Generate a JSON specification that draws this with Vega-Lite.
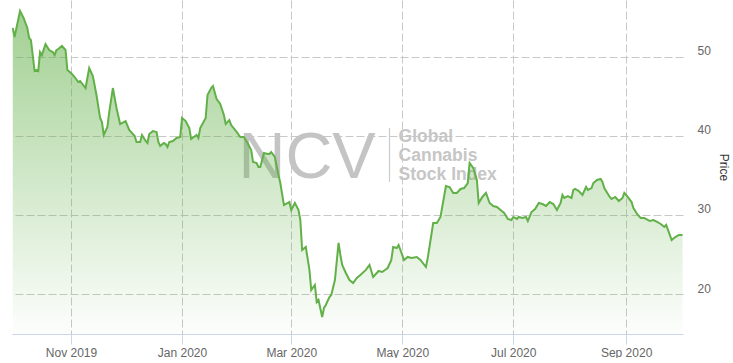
{
  "$schema": "https://vega.github.io/schema/vega-lite/v6.json",
  "width": 671,
  "height": 334,
  "padding": {"left": 8, "top": 0, "right": 0, "bottom": 0},
  "config": {"view": {"stroke": null}, "font": "Liberation Sans", "axis": {"labelFont": "Liberation Sans", "titleFont": "Liberation Sans"}},
  "layer": [
    {
      "data": {"values": [{}]},
      "mark": {"type": "text", "text": "NCV", "fontSize": 65, "font": "Liberation Sans", "color": "#c4c4c4", "align": "left", "baseline": "alphabetic"},
      "encoding": {"x": {"datum": {"year": 2020, "month": "feb", "date": 1, "utc": true}, "type": "temporal"}, "y": {"datum": 34.65, "type": "quantitative"}}
    },
    {
      "data": {"values": [{}]},
      "mark": {"type": "rule", "color": "#cccccc", "strokeWidth": 1.2},
      "encoding": {"x": {"datum": {"year": 2020, "month": "apr", "date": 24, "utc": true}, "type": "temporal"}, "y": {"datum": 40.97, "type": "quantitative"}, "y2": {"datum": 34.15}}
    },
    {
      "data": {"values": [{}]},
      "mark": {"type": "text", "text": "Global", "fontSize": 17.5, "fontWeight": "bold", "font": "Liberation Sans", "color": "#c6c6c6", "align": "left", "baseline": "alphabetic"},
      "encoding": {"x": {"datum": {"year": 2020, "month": "apr", "date": 29, "utc": true}, "type": "temporal"}, "y": {"datum": 39.15, "type": "quantitative"}}
    },
    {
      "data": {"values": [{}]},
      "mark": {"type": "text", "text": "Cannabis", "fontSize": 17.5, "fontWeight": "bold", "font": "Liberation Sans", "color": "#c6c6c6", "align": "left", "baseline": "alphabetic"},
      "encoding": {"x": {"datum": {"year": 2020, "month": "apr", "date": 29, "utc": true}, "type": "temporal"}, "y": {"datum": 36.8, "type": "quantitative"}}
    },
    {
      "data": {"values": [{}]},
      "mark": {"type": "text", "text": "Stock Index", "fontSize": 17.5, "fontWeight": "bold", "font": "Liberation Sans", "color": "#c6c6c6", "align": "left", "baseline": "alphabetic"},
      "encoding": {"x": {"datum": {"year": 2020, "month": "apr", "date": 29, "utc": true}, "type": "temporal"}, "y": {"datum": 34.45, "type": "quantitative"}}
    },
    {
      "data": {"values": [
        {"date": "2019-09-30", "price": 53.60}, {"date": "2019-10-01", "price": 52.46}, {"date": "2019-10-04", "price": 55.75}, {"date": "2019-10-06", "price": 54.86},
        {"date": "2019-10-08", "price": 53.60}, {"date": "2019-10-09", "price": 52.34}, {"date": "2019-10-10", "price": 52.08}, {"date": "2019-10-12", "price": 48.17},
        {"date": "2019-10-13", "price": 48.30}, {"date": "2019-10-14", "price": 48.17}, {"date": "2019-10-15", "price": 50.57}, {"date": "2019-10-16", "price": 50.19},
        {"date": "2019-10-18", "price": 51.58}, {"date": "2019-10-20", "price": 50.82}, {"date": "2019-10-22", "price": 50.57}, {"date": "2019-10-23", "price": 50.19},
        {"date": "2019-10-24", "price": 50.82}, {"date": "2019-10-25", "price": 50.95}, {"date": "2019-10-27", "price": 51.33}, {"date": "2019-10-29", "price": 50.82},
        {"date": "2019-10-30", "price": 48.30}, {"date": "2019-11-01", "price": 47.92}, {"date": "2019-11-03", "price": 47.41}, {"date": "2019-11-05", "price": 46.78},
        {"date": "2019-11-06", "price": 46.91}, {"date": "2019-11-09", "price": 46.02}, {"date": "2019-11-11", "price": 48.55}, {"date": "2019-11-13", "price": 47.54},
        {"date": "2019-11-15", "price": 45.14}, {"date": "2019-11-17", "price": 42.23}, {"date": "2019-11-18", "price": 41.73}, {"date": "2019-11-19", "price": 40.09},
        {"date": "2019-11-21", "price": 41.10}, {"date": "2019-11-22", "price": 42.99}, {"date": "2019-11-24", "price": 46.02}, {"date": "2019-11-26", "price": 43.50},
        {"date": "2019-11-28", "price": 41.48}, {"date": "2019-11-29", "price": 41.60}, {"date": "2019-12-01", "price": 41.85}, {"date": "2019-12-03", "price": 40.72},
        {"date": "2019-12-06", "price": 39.96}, {"date": "2019-12-07", "price": 39.20}, {"date": "2019-12-09", "price": 39.20}, {"date": "2019-12-10", "price": 40.09},
        {"date": "2019-12-12", "price": 39.33}, {"date": "2019-12-13", "price": 39.07}, {"date": "2019-12-14", "price": 40.21}, {"date": "2019-12-16", "price": 40.59},
        {"date": "2019-12-18", "price": 40.47}, {"date": "2019-12-19", "price": 39.20}, {"date": "2019-12-20", "price": 38.70}, {"date": "2019-12-22", "price": 39.07},
        {"date": "2019-12-23", "price": 38.95}, {"date": "2019-12-24", "price": 38.57}, {"date": "2019-12-25", "price": 39.20}, {"date": "2019-12-27", "price": 39.33},
        {"date": "2019-12-29", "price": 39.71}, {"date": "2019-12-31", "price": 39.83}, {"date": "2020-01-01", "price": 42.23}, {"date": "2020-01-03", "price": 41.85},
        {"date": "2020-01-05", "price": 40.97}, {"date": "2020-01-06", "price": 39.58}, {"date": "2020-01-09", "price": 40.09}, {"date": "2020-01-10", "price": 39.71},
        {"date": "2020-01-11", "price": 40.97}, {"date": "2020-01-14", "price": 42.23}, {"date": "2020-01-15", "price": 45.14}, {"date": "2020-01-17", "price": 46.02},
        {"date": "2020-01-18", "price": 46.27}, {"date": "2020-01-20", "price": 44.63}, {"date": "2020-01-22", "price": 44.00}, {"date": "2020-01-24", "price": 42.61},
        {"date": "2020-01-25", "price": 41.48}, {"date": "2020-01-27", "price": 41.98}, {"date": "2020-01-28", "price": 41.35}, {"date": "2020-01-31", "price": 40.47},
        {"date": "2020-02-02", "price": 39.83}, {"date": "2020-02-04", "price": 39.83}, {"date": "2020-02-06", "price": 39.07}, {"date": "2020-02-08", "price": 38.19},
        {"date": "2020-02-09", "price": 36.68}, {"date": "2020-02-11", "price": 36.55}, {"date": "2020-02-12", "price": 36.05}, {"date": "2020-02-13", "price": 36.05},
        {"date": "2020-02-15", "price": 37.81}, {"date": "2020-02-17", "price": 37.69}, {"date": "2020-02-18", "price": 37.69}, {"date": "2020-02-19", "price": 37.94},
        {"date": "2020-02-21", "price": 37.31}, {"date": "2020-02-23", "price": 35.03}, {"date": "2020-02-24", "price": 34.02}, {"date": "2020-02-26", "price": 31.24},
        {"date": "2020-02-29", "price": 31.62}, {"date": "2020-03-01", "price": 30.61}, {"date": "2020-03-03", "price": 31.50}, {"date": "2020-03-05", "price": 30.61},
        {"date": "2020-03-06", "price": 29.35}, {"date": "2020-03-07", "price": 25.56}, {"date": "2020-03-09", "price": 25.94}, {"date": "2020-03-11", "price": 23.04},
        {"date": "2020-03-12", "price": 20.51}, {"date": "2020-03-14", "price": 21.14}, {"date": "2020-03-15", "price": 18.99}, {"date": "2020-03-16", "price": 19.25},
        {"date": "2020-03-18", "price": 17.10}, {"date": "2020-03-19", "price": 18.24}, {"date": "2020-03-20", "price": 18.61}, {"date": "2020-03-22", "price": 19.62},
        {"date": "2020-03-23", "price": 19.88}, {"date": "2020-03-25", "price": 21.77}, {"date": "2020-03-27", "price": 26.45}, {"date": "2020-03-28", "price": 24.93},
        {"date": "2020-03-29", "price": 23.67}, {"date": "2020-03-31", "price": 22.66}, {"date": "2020-04-02", "price": 21.77}, {"date": "2020-04-04", "price": 21.39},
        {"date": "2020-04-06", "price": 22.02}, {"date": "2020-04-08", "price": 22.40}, {"date": "2020-04-11", "price": 23.04}, {"date": "2020-04-13", "price": 23.67},
        {"date": "2020-04-15", "price": 22.15}, {"date": "2020-04-18", "price": 22.91}, {"date": "2020-04-20", "price": 22.78}, {"date": "2020-04-23", "price": 23.29},
        {"date": "2020-04-25", "price": 24.30}, {"date": "2020-04-26", "price": 25.94}, {"date": "2020-04-28", "price": 25.81}, {"date": "2020-04-29", "price": 26.19},
        {"date": "2020-04-30", "price": 25.56}, {"date": "2020-05-02", "price": 24.30}, {"date": "2020-05-04", "price": 24.68}, {"date": "2020-05-06", "price": 24.55},
        {"date": "2020-05-09", "price": 24.68}, {"date": "2020-05-11", "price": 24.30}, {"date": "2020-05-14", "price": 23.41}, {"date": "2020-05-15", "price": 24.55},
        {"date": "2020-05-18", "price": 28.97}, {"date": "2020-05-20", "price": 28.97}, {"date": "2020-05-22", "price": 29.73}, {"date": "2020-05-25", "price": 33.65},
        {"date": "2020-05-27", "price": 33.52}, {"date": "2020-05-29", "price": 32.76}, {"date": "2020-05-31", "price": 32.76}, {"date": "2020-06-02", "price": 33.27},
        {"date": "2020-06-04", "price": 33.39}, {"date": "2020-06-06", "price": 34.02}, {"date": "2020-06-07", "price": 36.55}, {"date": "2020-06-09", "price": 35.92},
        {"date": "2020-06-11", "price": 34.40}, {"date": "2020-06-12", "price": 31.50}, {"date": "2020-06-14", "price": 32.26}, {"date": "2020-06-16", "price": 32.76},
        {"date": "2020-06-18", "price": 31.50}, {"date": "2020-06-20", "price": 31.12}, {"date": "2020-06-22", "price": 30.99}, {"date": "2020-06-24", "price": 30.61},
        {"date": "2020-06-26", "price": 30.23}, {"date": "2020-06-28", "price": 29.48}, {"date": "2020-06-30", "price": 29.35}, {"date": "2020-07-01", "price": 29.73},
        {"date": "2020-07-03", "price": 29.48}, {"date": "2020-07-04", "price": 29.73}, {"date": "2020-07-06", "price": 29.60}, {"date": "2020-07-08", "price": 29.73},
        {"date": "2020-07-09", "price": 29.22}, {"date": "2020-07-11", "price": 30.36}, {"date": "2020-07-13", "price": 30.74}, {"date": "2020-07-15", "price": 31.50},
        {"date": "2020-07-17", "price": 31.37}, {"date": "2020-07-19", "price": 31.12}, {"date": "2020-07-21", "price": 31.62}, {"date": "2020-07-23", "price": 31.37},
        {"date": "2020-07-25", "price": 30.61}, {"date": "2020-07-27", "price": 31.50}, {"date": "2020-07-28", "price": 32.51}, {"date": "2020-07-29", "price": 32.13},
        {"date": "2020-07-31", "price": 32.38}, {"date": "2020-08-02", "price": 32.13}, {"date": "2020-08-03", "price": 33.14}, {"date": "2020-08-04", "price": 33.27},
        {"date": "2020-08-06", "price": 33.01}, {"date": "2020-08-08", "price": 32.51}, {"date": "2020-08-10", "price": 33.52}, {"date": "2020-08-11", "price": 33.14},
        {"date": "2020-08-13", "price": 33.39}, {"date": "2020-08-14", "price": 34.02}, {"date": "2020-08-16", "price": 34.40}, {"date": "2020-08-18", "price": 34.53},
        {"date": "2020-08-19", "price": 34.15}, {"date": "2020-08-20", "price": 33.39}, {"date": "2020-08-23", "price": 32.26}, {"date": "2020-08-24", "price": 32.00},
        {"date": "2020-08-26", "price": 32.26}, {"date": "2020-08-28", "price": 31.75}, {"date": "2020-08-30", "price": 32.13}, {"date": "2020-08-31", "price": 32.76},
        {"date": "2020-09-01", "price": 32.51}, {"date": "2020-09-04", "price": 31.62}, {"date": "2020-09-05", "price": 30.87}, {"date": "2020-09-07", "price": 30.11},
        {"date": "2020-09-09", "price": 29.60}, {"date": "2020-09-11", "price": 29.60}, {"date": "2020-09-14", "price": 29.22}, {"date": "2020-09-16", "price": 29.35},
        {"date": "2020-09-18", "price": 29.10}, {"date": "2020-09-20", "price": 28.85}, {"date": "2020-09-22", "price": 28.47}, {"date": "2020-09-23", "price": 28.72},
        {"date": "2020-09-25", "price": 27.46}, {"date": "2020-09-26", "price": 26.82}, {"date": "2020-09-28", "price": 27.20}, {"date": "2020-09-30", "price": 27.46},
        {"date": "2020-10-02", "price": 27.46}
      ]},
      "mark": {
        "type": "area",
        "interpolate": "linear",
        "line": {"color": "#62b048", "strokeWidth": 2},
        "color": {"gradient": "linear", "x1": 0, "y1": 0, "x2": 0, "y2": 1, "stops": [{"offset": 0, "color": "rgba(98,176,72,0.85)"}, {"offset": 1, "color": "rgba(98,176,72,0.02)"}]}
      },
      "encoding": {
        "x": {
          "field": "date", "type": "temporal",
          "scale": {"type": "utc", "domain": [{"year": 2019, "month": "sep", "date": 29, "hours": 14, "utc": true}, {"year": 2020, "month": "oct", "date": 2, "hours": 6, "utc": true}]},
          "axis": {
            "title": null,
            "values": [
              {"year": 2019, "month": "nov", "date": 1, "utc": true},
              {"year": 2020, "month": "jan", "date": 1, "utc": true},
              {"year": 2020, "month": "mar", "date": 1, "utc": true},
              {"year": 2020, "month": "may", "date": 1, "utc": true},
              {"year": 2020, "month": "jul", "date": 1, "utc": true},
              {"year": 2020, "month": "sep", "date": 1, "utc": true}
            ],
            "format": "%b %Y",
            "labelFontSize": 12, "labelColor": "#666666", "labelPadding": 3, "labelFlush": false,
            "tickSize": 10, "tickColor": "#ccd6eb", "domainColor": "#ccd6eb",
            "grid": true, "gridColor": "#c8c8c8", "gridDash": [8, 3], "gridWidth": 1
          }
        },
        "y": {
          "field": "price", "type": "quantitative",
          "scale": {"domain": [14.95, 57.14], "nice": false, "zero": false},
          "axis": {
            "orient": "right", "values": [20, 30, 40, 50], "title": "Price",
            "grid": true, "gridColor": "#c8c8c8", "gridDash": [8, 3], "gridWidth": 1,
            "domain": false, "ticks": false, "labelPadding": 14, "labelFontSize": 12, "labelColor": "#666666",
            "labelBaseline": "alphabetic", "labelOffset": -2,
            "titleFontSize": 12, "titleFontWeight": "normal", "titleColor": "#333333", "titlePadding": 6
          }
        },
        "y2": {"datum": 14.95}
      }
    }
  ]
}
